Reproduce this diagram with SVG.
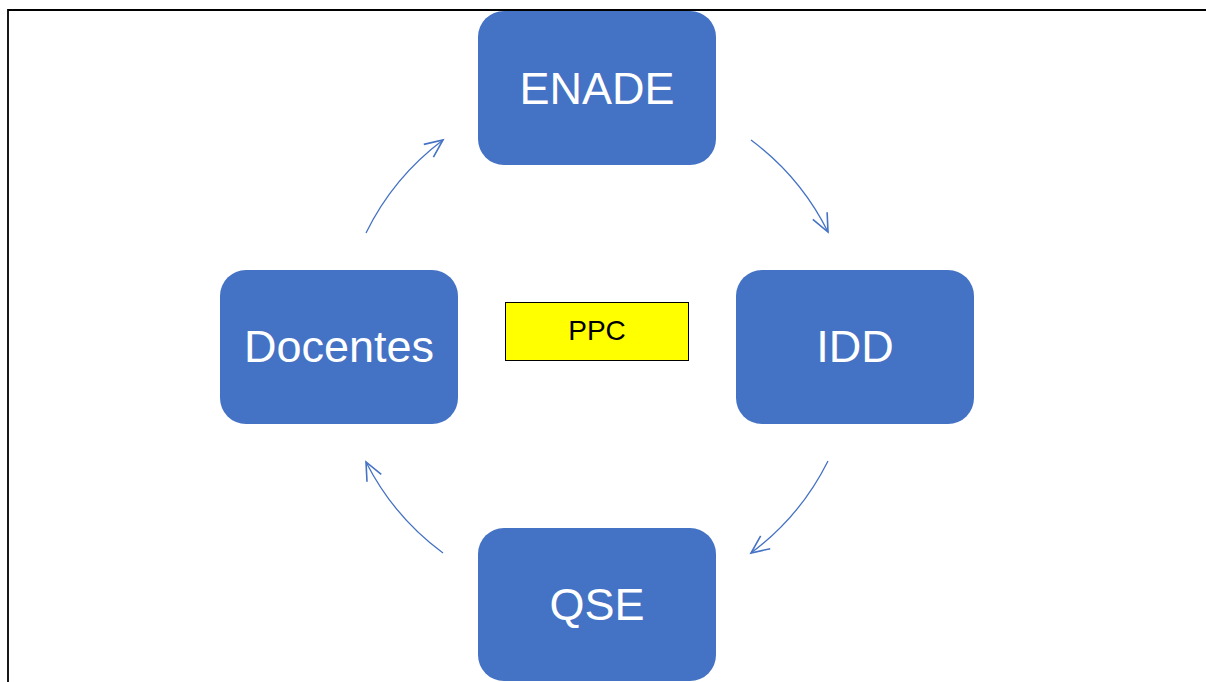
<svg xmlns="http://www.w3.org/2000/svg" width="1206" height="682" viewBox="0 0 1206 682">
<style>
.node{fill:#4472C4;}
.lbl{fill:#ffffff;font-family:"Liberation Sans",Arial,sans-serif;font-size:45px;text-anchor:middle;}
.conn{fill:none;stroke:#4472C4;stroke-width:1.3;marker-end:url(#arr);}
</style>
<defs>
<marker id="arr" markerUnits="userSpaceOnUse" markerWidth="24" markerHeight="24" refX="20" refY="10" orient="auto" viewBox="0 0 24 20">
<path d="M2,2 L20,10 L2,18" fill="none" stroke="#4472C4" stroke-width="1.6"/>
</marker>
</defs>
<rect width="1206" height="682" fill="#ffffff"/>
<path d="M8,682 V10 H1206" fill="none" stroke="#000000" stroke-width="1.8"/>
<g id="connectors">
<path class="conn" d="M751,140 A258,258 0 0,1 828,232"/>
<path class="conn" d="M828,461 A258,258 0 0,1 751,553"/>
<path class="conn" d="M443,553 A258,258 0 0,1 366,462"/>
<path class="conn" d="M366,233 A258,258 0 0,1 443,140"/>
</g>
<g id="enade"><rect class="node" x="478" y="11" width="238" height="154" rx="26"/><text class="lbl" x="597" y="104">ENADE</text></g>
<g id="idd"><rect class="node" x="736" y="270" width="238" height="154" rx="26"/><text class="lbl" x="855" y="362">IDD</text></g>
<g id="qse"><rect class="node" x="478" y="528" width="238" height="153" rx="26"/><text class="lbl" x="597" y="620">QSE</text></g>
<g id="docentes"><rect class="node" x="220" y="270" width="238" height="154" rx="26"/><text class="lbl" x="339" y="362">Docentes</text></g>
<g id="ppc"><rect x="505.5" y="302.5" width="183" height="58" fill="#FFFF00" stroke="#000000" stroke-width="1"/><text x="597" y="340" font-family="Liberation Sans,Arial,sans-serif" font-size="28" text-anchor="middle" fill="#000000">PPC</text></g>
</svg>
